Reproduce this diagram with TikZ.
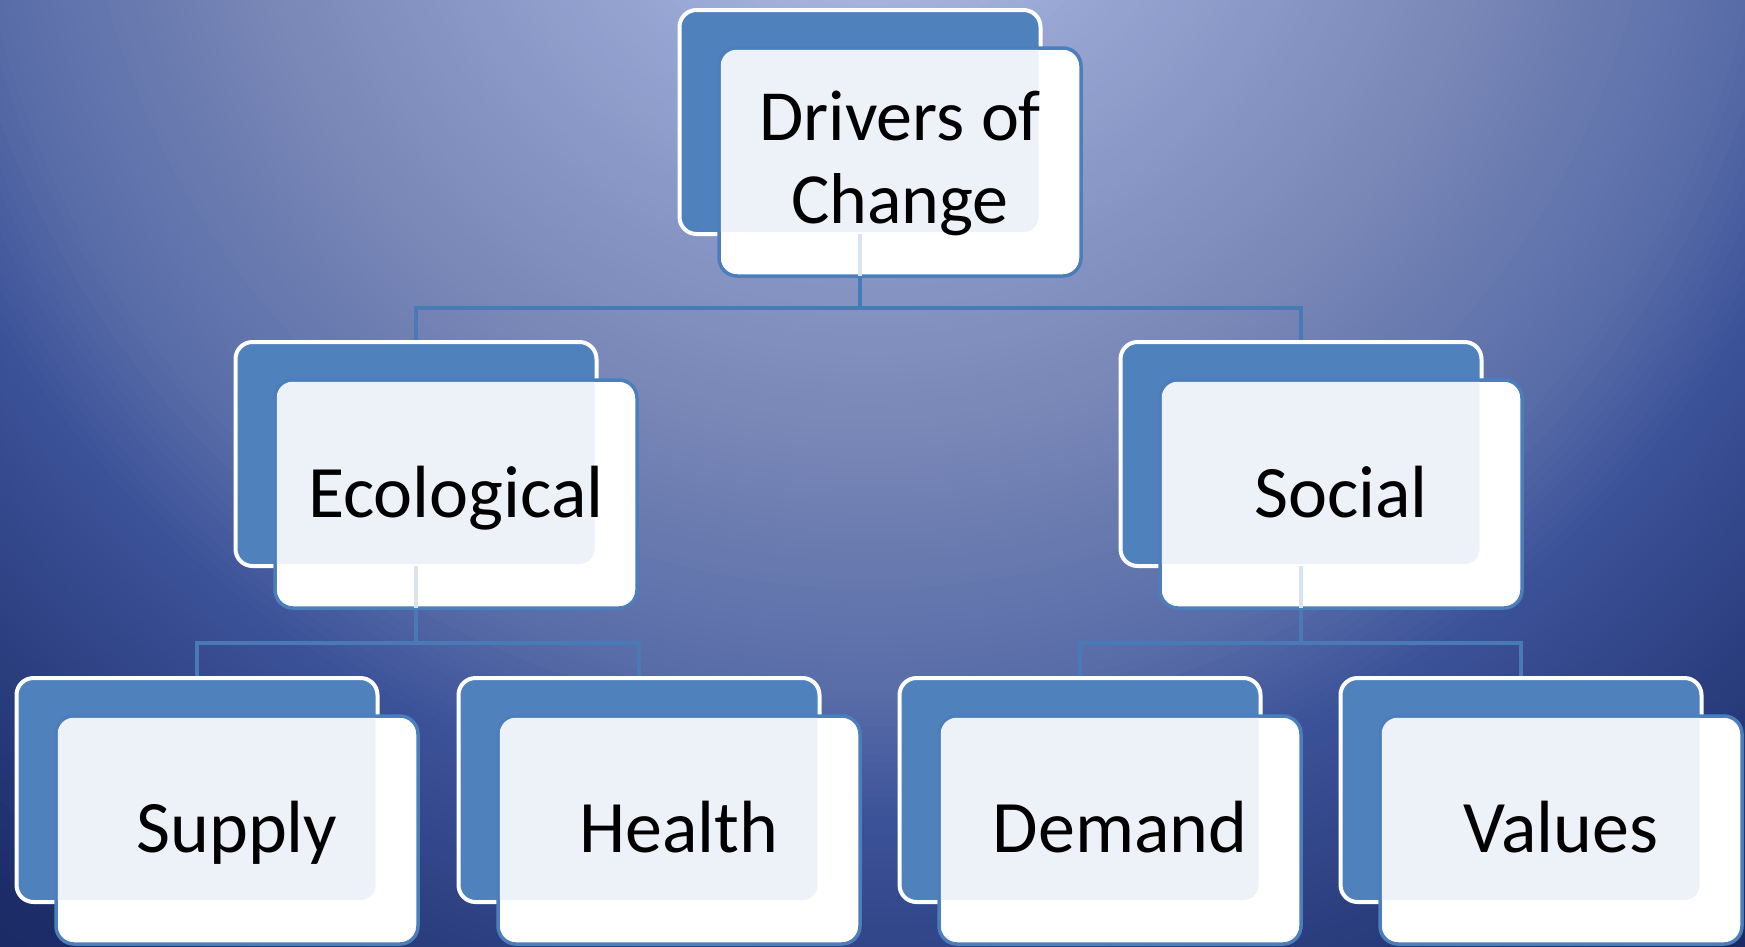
\documentclass[tikz,border=0pt]{standalone}
\usepackage{fontspec}
\setmainfont{Carlito}
\definecolor{bgA}{RGB}{172,186,226}
\definecolor{bgB}{RGB}{150,165,210}
\definecolor{bgC}{RGB}{120,135,182}
\definecolor{bgD}{RGB}{88,108,168}
\definecolor{bgE}{RGB}{60,82,152}
\definecolor{bgF}{RGB}{28,45,105}
\definecolor{bgG}{RGB}{24,40,98}
\definecolor{boxblue}{RGB}{79,129,189}
\definecolor{frontline}{RGB}{76,126,188}
\definecolor{tint}{RGB}{237,242,249}
\definecolor{connc}{RGB}{72,122,182}
\definecolor{faintc}{RGB}{218,227,240}
\tikzset{
  backbox/.style={rectangle, rounded corners=17pt, minimum width=361pt, minimum height=224pt,
    fill=boxblue, draw=white, line width=4pt, outer sep=0pt, inner sep=0pt},
  frontbox/.style={rectangle, rounded corners=18pt, minimum width=362pt, minimum height=228pt,
    fill=white, draw=frontline, line width=3.5pt, outer sep=0pt, inner sep=0pt},
  conn/.style={draw=connc, line width=4pt},
  faint/.style={draw=faintc, line width=3.5pt},
  lbl/.style={inner sep=0pt, outer sep=0pt, text=black, anchor=base},
  toplbl/.style={lbl, font=\fontsize{72}{84}\selectfont},
  boxlbl/.style={lbl, font=\fontsize{74}{88}\selectfont}
}
% concentric rings from radius #1 (colour #3) to radius #2 (colour #4), #5 steps
\newcommand{\bgring}[5]{%
  \foreach \k in {0,...,#5}{%
    \pgfmathsetmacro{\rr}{#1-(#1-#2)*\k/#5}%
    \pgfmathsetmacro{\pp}{100*\k/#5}%
    \fill[#4!\pp!#3] (bgc) circle[radius=\rr pt];
  }}
\newcommand{\tintpair}[2]{%
  \begin{scope}
    \clip[rounded corners=16pt] ([shift={(1.75pt,1.75pt)}]#2.south west) rectangle ([shift={(-1.75pt,-1.75pt)}]#2.north east);
    \fill[tint, rounded corners=15pt] ([shift={(2pt,2pt)}]#1.south west) rectangle ([shift={(-2pt,-2pt)}]#1.north east);
  \end{scope}}
\begin{document}
\begin{tikzpicture}[x=1pt, y=-1pt]
\useasboundingbox (0,0) rectangle (1745,946);
% background
\coordinate (bgc) at (870,-200);
\begin{scope}
  \clip (0,0) rectangle (1745,946);
  \fill[bgG] (0,0) rectangle (1745,946);
  \bgring{1500}{1390}{bgG}{bgF}{10}
  \bgring{1390}{1025}{bgF}{bgE}{40}
  \bgring{1025}{900}{bgE}{bgD}{14}
  \bgring{900}{640}{bgD}{bgC}{28}
  \bgring{640}{300}{bgC}{bgB}{36}
  \bgring{300}{150}{bgB}{bgA}{16}
\end{scope}
% junction coordinates
\coordinate (j0) at (860,308);
\coordinate (j1) at (416,643);
\coordinate (j2) at (1301,643);
% invisible placeholders so connectors can be drawn below the boxes
\node[backbox, draw=none, fill=none] (b0) at (860,122) {};
\node[backbox, draw=none, fill=none] (b1) at (416,454) {};
\node[backbox, draw=none, fill=none] (b2) at (1301,454) {};
\node[backbox, draw=none, fill=none] (b3) at (197,790) {};
\node[backbox, draw=none, fill=none] (b4) at (639,790) {};
\node[backbox, draw=none, fill=none] (b5) at (1080,790) {};
\node[backbox, draw=none, fill=none] (b6) at (1521,790) {};
\draw[conn] (b0.south) -- (j0);
\draw[conn] (b1.north) |- (j0) -| (b2.north);
\draw[conn] (b1.south) -- (j1);
\draw[conn] (b3.north) |- (j1) -| (b4.north);
\draw[conn] (b2.south) -- (j2);
\draw[conn] (b5.north) |- (j2) -| (b6.north);
% boxes
\foreach \b/\x/\y in {b0/860/122, b1/416/454, b2/1301/454, b3/197/790, b4/639/790, b5/1080/790, b6/1521/790}{
  \node[backbox] (\b) at (\x,\y) {};
}
\foreach \f/\x/\y in {f0/900/162, f1/456/494, f2/1341/494, f3/237/830, f4/679/830, f5/1120/830, f6/1561/830}{
  \node[frontbox] (\f) at (\x,\y) {};
}
\tintpair{b0}{f0}
\tintpair{b1}{f1}
\tintpair{b2}{f2}
\tintpair{b3}{f3}
\tintpair{b4}{f4}
\tintpair{b5}{f5}
\tintpair{b6}{f6}
% faint connector parts seen through the front boxes
\draw[faint] (b0.south) -- (b0.south |- f0.south);
\draw[faint] (b1.south) -- (b1.south |- f1.south);
\draw[faint] (b2.south) -- (b2.south |- f2.south);
% labels
\node[toplbl] (t0a) at ([yshift=22pt]f0.center) {Drivers of};
\node[toplbl] (t0b) at ([yshift=-61pt]f0.center) {Change};
\node[boxlbl] (t1) at ([yshift=-23pt]f1.center) {Ecological};
\node[boxlbl] (t2) at ([yshift=-23pt]f2.center) {Social};
\node[boxlbl] (t3) at ([yshift=-22pt]f3.center) {Supply};
\node[boxlbl] (t4) at ([yshift=-22pt]f4.center) {Health};
\node[boxlbl] (t5) at ([yshift=-22pt]f5.center) {Demand};
\node[boxlbl] (t6) at ([yshift=-22pt]f6.center) {Values};
\end{tikzpicture}
\end{document}
